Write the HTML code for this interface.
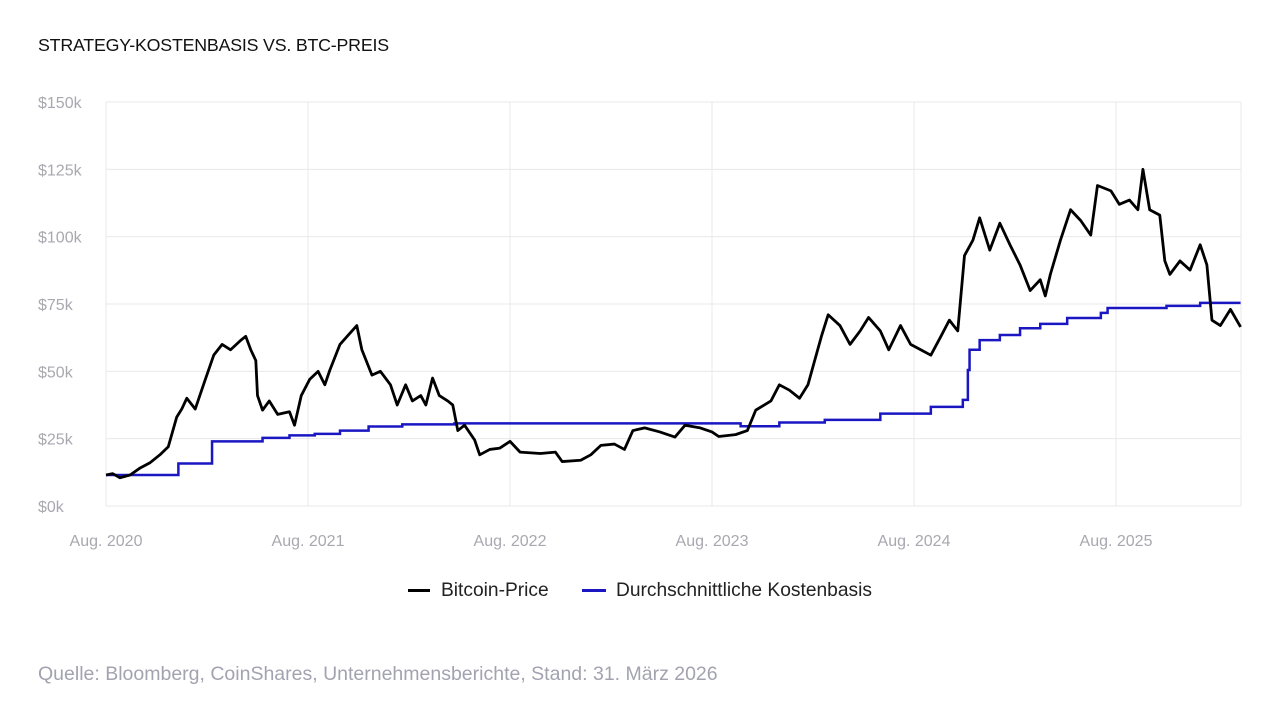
<!DOCTYPE html>
<html><head><meta charset="utf-8"><style>
body{margin:0;background:#fff;font-family:"Liberation Sans",sans-serif;}
#w{position:relative;width:1280px;height:720px;overflow:hidden}
.t{position:absolute;white-space:nowrap}
</style></head><body>
<div id="w">
<div class="t" style="left:38px;top:35px;font-size:17.8px;color:#111;letter-spacing:-0.2px">STRATEGY-KOSTENBASIS VS. BTC-PREIS</div>
<svg id="s" width="1280" height="720" style="position:absolute;left:0;top:0"></svg>
<div>
<div class="t" style="left:408px;top:580px;font-size:19.2px;color:#222"><span style="display:inline-block;width:22px;height:3px;background:#000;vertical-align:middle;margin-right:11px"></span>Bitcoin-Price</div>
<div class="t" style="left:582px;top:580px;font-size:19.2px;color:#222"><span style="display:inline-block;width:24px;height:3px;background:#1a17c2;vertical-align:middle;margin-right:10px"></span>Durchschnittliche Kostenbasis</div>
</div>
<div class="t" style="left:38px;top:663px;font-size:19.5px;color:#a3a3b0">Quelle: Bloomberg, CoinShares, Unternehmensberichte, Stand: 31. März 2026</div>
</div>
<script>
const yTicks=[0,25,50,75,100,125,150];
const yTickLabels=["$0k","$25k","$50k","$75k","$100k","$125k","$150k"];
const xTicks=[0,12,24,36,48,60];
const xTickLabels=["Aug. 2020","Aug. 2021","Aug. 2022","Aug. 2023","Aug. 2024","Aug. 2025"];
// months since Aug 2020
const priceMonths=[0,0.4,0.83,1.43,2.0,2.6,3.2,3.7,4.2,4.5,4.8,5.3,5.9,6.4,6.9,7.4,8.0,8.3,8.6,8.9,9.0,9.3,9.7,10.2,10.9,11.2,11.6,12.1,12.6,13.0,13.3,13.9,14.4,14.9,15.2,15.8,16.3,16.9,17.3,17.8,18.2,18.7,19.0,19.4,19.8,20.3,20.6,20.9,21.3,21.9,22.2,22.8,23.4,24.0,24.6,25.8,26.7,27.1,28.2,28.8,29.4,30.2,30.8,31.3,32.0,32.9,33.8,34.4,35.3,36.0,36.4,37.4,38.1,38.6,39.5,40.0,40.6,41.2,41.7,42.1,42.5,42.9,43.6,44.2,44.8,45.3,46.0,46.5,47.2,47.8,48.4,49.0,49.6,50.1,50.6,51.0,51.5,51.9,52.5,53.1,53.7,54.3,54.9,55.5,55.8,56.1,56.7,57.3,57.9,58.5,58.9,59.7,60.2,60.8,61.3,61.6,62.0,62.6,62.9,63.2,63.8,64.4,65.0,65.4,65.7,66.2,66.8,67.4];
const priceValues=[11.5,12,10.5,11.5,14,16,19,22,33,36,40,36,47,56,60,58,61.5,63,58,54,41,35.6,39,34,35,30,41,47,50,45,50.5,60,63.5,67,58,48.6,50,45,37.5,45,39,41,37.5,47.5,41,39,37.5,28,30,24.5,19,21,21.5,24,20,19.5,20,16.5,17,19,22.5,23,21,28,29,27.5,25.6,30,29,27.5,25.8,26.5,28,35.6,39,45,43,40,45,54,63,71,67,60,65,70,65,58,67,60,58,56,63,69,65,93,98.7,107,95,105,97,89.5,80,84,78,86,98.7,110,106,100.6,119,117,112,113.6,110,125,110,108,91,86,91,87.6,97,89.5,69,67,73,66.5];
const costMonths=[0,4.3,6.3,9.3,10.9,12.4,13.9,15.6,17.6,20.7,37.7,40,42.7,46,49.0,50.9,51.2,51.3,51.9,53.1,54.3,55.5,57.1,59.1,59.5,63.0,65.0,67.4];
const costValues=[11.5,15.8,24,25.3,26.2,26.8,28,29.5,30.3,30.7,29.6,31,32,34.3,36.8,39.4,50.5,58,61.6,63.5,66,67.6,69.8,71.7,73.5,74.3,75.4,75.4];

const s=document.getElementById('s'),NS='http://www.w3.org/2000/svg';
const X0=106,X1=1241,Y0=506,Y1=102;
const xs=m=>X0+m*(202/12);
const ys=v=>Y0-(v/150)*(Y0-Y1);
function el(t,a){const e=document.createElementNS(NS,t);for(const k in a)e.setAttribute(k,a[k]);s.appendChild(e);return e;}
yTicks.forEach((v,i)=>{
 const g=el('line',{x1:X0,x2:X1,y1:ys(v),y2:ys(v),stroke:'#e8e8ec','stroke-width':1});
 
 
 const t=el('text',{x:38,y:ys(v)+6,fill:'#a8a8b0','font-size':16,'font-family':'Liberation Sans'});
 t.textContent=yTickLabels[i];
 
 
});
xTicks.forEach((m,i)=>{
 const g=el('line',{x1:xs(m),x2:xs(m),y1:Y1,y2:Y0,stroke:'#e8e8ec','stroke-width':1});
 
 
 const t=el('text',{x:xs(m),y:546,fill:'#a8a8b0','font-size':16,'text-anchor':'middle','font-family':'Liberation Sans'});
 t.textContent=xTickLabels[i];
 
 
});
const rg=el('line',{x1:X1,x2:X1,y1:Y1,y2:Y0,stroke:'#e8e8ec','stroke-width':1});


let d='';
costMonths.forEach((m,i)=>{d+=(i?'H'+xs(m)+'V':'M'+xs(m)+' ')+ys(costValues[i]);});
const c=el('path',{d:d,fill:'none',stroke:'#1a17c2','stroke-width':2.5});


let p='';
priceMonths.forEach((m,i)=>{p+=(i?'L':'M')+xs(m)+' '+ys(priceValues[i]);});
const b=el('path',{d:p,fill:'none',stroke:'#000','stroke-width':2.8,'stroke-linejoin':'round'});


</script>
</body></html>
